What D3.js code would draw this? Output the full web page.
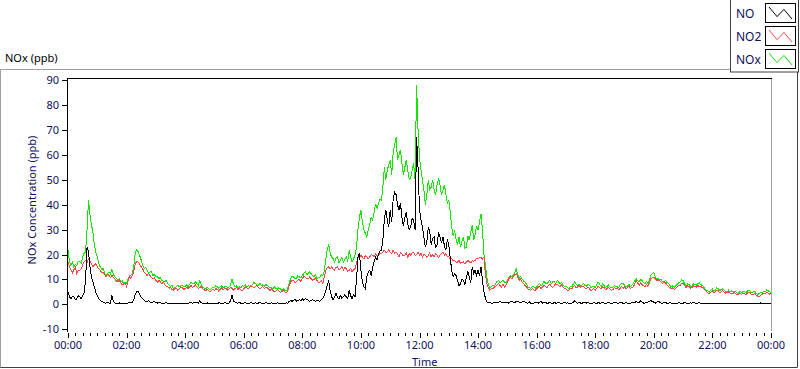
<!DOCTYPE html>
<html>
<head>
<meta charset="utf-8">
<script src="https://cdn.jsdelivr.net/npm/d3@7/dist/d3.min.js"></script>
<style>
  body { margin: 0; background: #fff; }
  svg { display: block; font-family: "Noto Sans", "Open Sans", sans-serif; }
</style>
</head>
<body>
<div id="chart"></div>
<script>
// readings every 6 minutes from 00:00 (grid) plus the readings 3 minutes after each (mid)
var sampleStep = 0.1;

var noGrid = [
  5, 2.3, 3, 2.3, 3, 3.6, 9.6, 21, 11, 7,
  3.6, 1.6, 0.9, 0.5, 0.5, 3.6, 0.5, 0.3, 0.3, 0.3,
  0.3, 0.9, 0.9, 4.3, 5, 2.9, 1.6, 1.3, 0.9, 0.9,
  0.8, 0.8, 0.5, 0.5, 0.5, 0.3, 0.3, 0.3, 0.3, 0.3,
  0.3, 0.4, 0.9, 0.6, 0.6, 1.6, 0.5, 0.4, 0.4, 0.4,
  0.4, 0.4, 0.5, 0.4, 0.5, 0.5, 3.6, 0.9, 0.5, 0.5,
  0.5, 0.5, 0.5, 0.5, 0.6, 0.5, 0.5, 0.5, 0.5, 0.4,
  0.4, 0.4, 0.4, 0.3, 0.3, 0.5, 1.6, 1.6, 1.3, 1.9,
  2.3, 2.3, 1.6, 1.6, 1.6, 1.6, 1.3, 2.3, 5.6, 9.6,
  3, 3, 3, 3.6, 3, 3, 5.6, 2.3, 3, 19,
  13.7, 7, 11, 13.7, 15, 19, 20.3, 21.7, 34, 33.7,
  37.8, 42, 44, 37.8, 35, 35, 32, 31, 33.7, 67,
  38, 31, 23, 31, 24, 27, 24, 27, 27, 21.7,
  24, 13.7, 12.3, 9.6, 8.3, 9.6, 11, 11, 15, 13.7,
  13.7, 15, 5, 1, 0.9, 0.5, 0.9, 0.9, 0.9, 0.9,
  0.9, 1, 0.9, 1.3, 0.9, 0.9, 0.9, 0.5, 0.5, 0.5,
  0.9, 0.9, 0.5, 0.9, 0.5, 0.5, 0.9, 0.5, 0.5, 0.5,
  0.5, 0.3, 0.5, 1.6, 0.5, 0.5, 0.9, 0.5, 0.5, 0.5,
  0.5, 0.9, 0.5, 0.5, 0.5, 0.5, 0.5, 0.9, 0.5, 0.9,
  0.5, 0.5, 0.5, 0.9, 1.3, 0.9, 0.9, 0.5, 0.9, 1.6,
  0.9, 0.9, 0.9, 0.5, 0.9, 0.5, 0.5, 0.3, 0.5, 0.5,
  0.5, 0.5, 0.5, 0.5, 0.5, 0.5, 0.5, 0.5, 0.3, 0.3,
  0.3, 0.3, 0.3, 0.3, 0.3, 0.3, 0.3, 0.3, 0.3, 0.3,
  0.3, 0.3, 0.3, 0.3, 0.3, 0.3, 0.3, 0.3, 0.3, 0.3,
  0.3
];
var noMid = [
  3, 3.2, 1.8, 3.4, 2.2, 4.5, 23, 15, 9, 4.8,
  2.2, 1.2, 0.6, 0.9, 0.4, 1.2, 0.4, 0.6, 0.2, 0.5,
  0.5, 0.6, 2, 5.2, 3.8, 2.2, 1.1, 1.4, 0.6, 1.1,
  0.5, 0.7, 0.3, 0.6, 0.2, 0.5, 0.2, 0.4, 0.2, 0.4,
  0.5, 0.7, 0.5, 0.9, 0.5, 0.6, 0.3, 0.6, 0.3, 0.6,
  0.3, 0.6, 0.3, 0.7, 0.3, 1.5, 1.2, 0.6, 0.8, 0.3,
  0.7, 0.3, 0.8, 0.3, 0.4, 0.8, 0.3, 0.7, 0.3, 0.6,
  0.3, 0.6, 0.2, 0.4, 0.6, 1.2, 1.2, 1.9, 1.6, 1.5,
  1.7, 2.1, 1.2, 1.9, 1.2, 1.4, 1.9, 3.5, 7.5, 5.5,
  1.9, 4.4, 2.1, 2.5, 3.9, 2.2, 3.4, 3.8, 10, 20.5,
  9, 6.3, 12.8, 11.5, 17, 18, 21.5, 26, 38, 31,
  33, 45, 40, 40.5, 31.5, 37, 30, 34.5, 30, 55,
  34, 27, 25, 29, 26.5, 22.5, 29, 24.5, 23.5, 26,
  18.5, 11, 11.5, 7.5, 10, 7.8, 13, 8.5, 12.5, 11.5,
  11.5, 9.5, 2.5, 0.6, 0.4, 0.8, 0.5, 1.2, 0.6, 0.7,
  0.5, 1.2, 0.6, 1.1, 0.6, 1.3, 0.6, 1, 0.3, 0.8,
  0.4, 1.1, 0.8, 0.4, 1, 0.3, 0.5, 0.9, 0.3, 0.8,
  0.6, 0.3, 0.7, 0.7, 0.9, 0.3, 0.6, 0.9, 0.3, 0.7,
  0.3, 0.5, 0.9, 0.3, 0.8, 0.3, 0.7, 0.4, 0.8, 0.4,
  0.8, 0.3, 0.7, 0.6, 0.8, 1.4, 0.5, 0.8, 1.2, 1.1,
  0.5, 1.2, 0.5, 0.8, 0.4, 0.7, 0.3, 0.5, 0.7, 0.3,
  0.7, 0.3, 0.6, 0.9, 0.3, 0.6, 0.3, 0.2, 0.5, 0.2,
  0.4, 0.2, 0.3, 0.4, 0.2, 0.3, 0.3, 0.2, 0.4, 0.3,
  0.3, 0.2, 0.4, 0.3, 0.3, 0.2, 0.6, 0.3, 0.2, 0.3
];

var no2Grid = [
  17, 13.7, 13.9, 12.3, 13.7, 15.7, 17.7, 18.3, 16.3, 15.7,
  15, 13.7, 13, 11, 11.6, 11.6, 10.3, 9, 8.6, 8,
  7.2, 11, 11.6, 16.3, 17, 15, 13, 11.6, 11.6, 10.3,
  9.6, 9.6, 8.3, 8, 7.2, 6.7, 5.6, 6.3, 6.3, 6.7,
  6.3, 6.3, 7.6, 7.2, 7, 6.7, 6.3, 5.4, 5.4, 5.6,
  5.6, 5.9, 6.1, 5.9, 6.3, 6.3, 6.3, 6.3, 5.9, 5.9,
  6.3, 6.7, 6.7, 7.2, 7.2, 6.7, 6.7, 6.3, 6.7, 5.6,
  5.6, 5.4, 5.4, 5, 5, 5.4, 9, 9.6, 9, 9.9,
  10.3, 11, 10.3, 10.3, 9.9, 9.6, 8.9, 8.3, 13.7, 15,
  15, 13.7, 15, 14.3, 13.7, 14.3, 13.7, 13, 14.3, 19,
  19.7, 18.3, 19, 19, 19.7, 20.3, 19.7, 20.3, 21.7, 21,
  21, 21.7, 21, 19, 20.3, 19.7, 19, 19.7, 21, 20,
  19.7, 19, 19.7, 19.7, 19, 19, 19.7, 19.7, 21, 20.3,
  19, 18.3, 17.7, 17, 16.3, 17, 17, 17, 17.7, 17.7,
  18.3, 19, 19, 8.3, 5.6, 6.3, 7.2, 8.3, 7, 7,
  9, 11, 11, 12.3, 9.6, 9, 7.6, 6.3, 5.6, 5.9,
  6.3, 7.2, 7, 7.2, 7.6, 7.2, 7.6, 8, 7.2, 7,
  6.3, 5.6, 6.3, 7.6, 7, 6.7, 7.2, 6.3, 6.3, 5.9,
  5.6, 7.2, 6.3, 6.7, 6.3, 6.3, 5.9, 6.3, 5.9, 7.2,
  7, 6.7, 6.3, 7, 9.6, 7.6, 8, 7.2, 7.2, 10.3,
  11, 9.6, 9.4, 8.3, 8.6, 7.2, 6.3, 5.9, 7, 7.6,
  8.3, 6.7, 7.2, 6.7, 7.2, 7.6, 7.2, 6.3, 5, 4.3,
  5.4, 5, 5.4, 5, 5, 4.6, 4.6, 4.3, 4.3, 4,
  4, 4.3, 4.6, 4.3, 4, 3.6, 3.2, 4, 4.3, 4.6,
  4.3
];
var no2Mid = [
  15.2, 12.6, 14.8, 13.5, 14.2, 17, 16.5, 17.4, 15.2, 16.4,
  14.2, 12.8, 12, 12.1, 10.8, 10.9, 9.4, 9.8, 7.9, 8.6,
  9.5, 10.4, 13.5, 17.4, 16, 14.3, 12.3, 12.4, 10.8, 10.8,
  8.9, 9, 9, 7.4, 6.5, 6, 6.5, 5.7, 7, 6,
  6.9, 7.1, 6.8, 7.8, 6.3, 7.2, 5.8, 6.1, 4.9, 6,
  6.3, 5.3, 6.7, 6.6, 5.7, 6.9, 5.8, 6.8, 6.4, 5.4,
  7, 6.1, 7.4, 6.6, 7.8, 6.2, 7.2, 6.9, 6, 6.2,
  5, 6, 4.9, 5.6, 4.6, 7.5, 9.8, 8.7, 9.8, 9.3,
  11.4, 10.2, 11, 9.7, 10.5, 8.8, 9.5, 11, 14.6, 14.2,
  14.2, 14.8, 13.8, 15.2, 14.8, 13.3, 14.5, 14, 16.5, 18.6,
  19, 19.5, 18.2, 20, 19.2, 19.4, 20.6, 21, 20.8, 21.8,
  20.3, 20.6, 20.2, 20.6, 19.4, 20.6, 20.3, 20.8, 19.6, 21,
  20.5, 20.2, 18.8, 20.6, 20.1, 20.3, 18.8, 20.4, 19.8, 19.2,
  18.2, 17.4, 16.8, 17.8, 16.9, 16.2, 17.6, 16.6, 17.2, 18.4,
  18.8, 18.2, 12, 6.5, 6.2, 6.9, 7.9, 7.6, 8, 7.6,
  10.3, 10.2, 11.8, 11.2, 10.2, 8.3, 7, 5.8, 6.4, 5.5,
  6.9, 6.4, 7.7, 6.6, 8.1, 6.8, 8.2, 7.4, 7.9, 6.4,
  5.7, 6.5, 7.2, 6.6, 7.6, 7.3, 6.5, 7, 5.6, 6.4,
  6.5, 6.6, 7.1, 5.9, 6.9, 5.7, 6.8, 6.6, 6.5, 6.4,
  6.4, 7.3, 6.9, 8.3, 8.6, 8.5, 7.4, 8, 8.6, 10.8,
  10.2, 9.9, 8.8, 9.2, 7.8, 6.8, 6.7, 6.4, 7.6, 8.4,
  7.6, 7.4, 6.5, 7.4, 6.8, 7, 6.8, 5.7, 4.6, 5,
  4.8, 5.6, 4.7, 5.5, 4.5, 5, 4.2, 4.9, 3.8, 4.5,
  4.6, 3.9, 4.9, 3.8, 4.4, 3.3, 3.7, 4.5, 4.9, 4.1
];

var noxGrid = [
  22, 15.7, 15, 15.7, 17, 19, 21, 42, 32, 24,
  19, 15, 14.3, 11.6, 13, 14, 11, 9.6, 9, 8.3,
  8.3, 11.6, 12.3, 21, 21, 17.7, 14.3, 13.7, 13, 11.6,
  11, 10.3, 9.6, 9, 8.3, 7.2, 6.3, 7, 7, 7.6,
  7, 7, 9, 8.3, 8.3, 9.6, 7, 6.3, 6.3, 6.3,
  6.7, 7, 7, 6.7, 7.2, 7, 10.3, 7, 6.7, 6.7,
  7.2, 7, 7.2, 8, 8.3, 7.6, 7.6, 7.2, 7.6, 6.7,
  6.3, 6.3, 6.7, 5.6, 5.6, 6.3, 10.3, 11, 10.3, 11,
  11.6, 13, 12.3, 12.3, 11, 10.3, 11, 11.6, 18, 24,
  19, 17, 19, 17.7, 17, 19, 21.7, 17, 19.7, 30,
  37.8, 30, 27, 32, 33.7, 40.4, 40.4, 41.8, 55, 53.8,
  57.8, 60.5, 67, 60, 56.5, 55, 53.8, 51, 56.5, 88,
  59, 49.8, 40, 49.8, 47, 45.8, 48, 48, 45.8, 44.4,
  41.8, 31, 29.7, 24, 23, 27, 23, 25.7, 32, 28,
  29.7, 36.4, 20, 11, 6.3, 7.6, 8.3, 9.6, 9, 9,
  9.6, 11.6, 11.6, 14.3, 10.3, 10.3, 9, 7, 6.3, 7,
  7, 8.3, 8, 8.6, 9, 8.3, 9, 9.6, 8.3, 7.6,
  7.2, 6.3, 7, 9, 7.6, 7.2, 8.3, 7.2, 7.6, 7,
  6.7, 9, 7.2, 7.6, 7.2, 7, 6.7, 7, 6.7, 8.3,
  7.6, 7.2, 7.2, 8.3, 10.3, 9, 9.6, 8.3, 8.3, 11.6,
  13, 10, 9.6, 9, 9.6, 8.3, 7, 6.7, 8, 9,
  9.6, 7.2, 8, 7.2, 8, 8.3, 8, 7, 5.6, 5,
  6.3, 5.6, 6.3, 5.9, 5.6, 5, 5, 5, 5, 4.6,
  4.6, 5, 5.4, 5, 5, 4.3, 4.3, 4.6, 5, 5.6,
  4.6
];
var noxMid = [
  17, 16.8, 16, 17.2, 16.5, 20.5, 30, 36, 29, 21,
  16.5, 14, 12.5, 12.4, 12.2, 12, 10.5, 10.2, 9.4, 8.8,
  10.2, 11.8, 16, 22, 19.5, 15.8, 14.8, 12.6, 13.2, 12,
  11.2, 10.8, 9.4, 9.8, 7.7, 7.6, 6.8, 7.7, 7.6, 7.2,
  7.9, 8, 8.5, 9, 7.5, 8, 6.6, 6.9, 6, 6.9,
  7.5, 6.5, 7.4, 7.3, 6.6, 7.8, 8, 7.4, 7, 7.6,
  7.8, 7.5, 7.5, 8.8, 7.8, 8.4, 7.8, 8, 7, 6.6,
  6.9, 6.1, 6.2, 6.2, 5.4, 8.5, 11.2, 10.2, 11.5, 10.6,
  12.5, 12, 13.2, 11.6, 11.8, 10.8, 11.8, 13.5, 22, 20.5,
  18.3, 18.5, 16.8, 18.8, 18.2, 17.5, 19, 18.5, 23, 35,
  33, 28.5, 30, 35, 37, 38.5, 42, 47, 50, 56,
  52, 64, 58, 62, 52, 58, 50, 54, 50, 70,
  54, 46, 44, 46, 50, 44, 50.5, 44, 48, 40.5,
  37, 27.5, 26, 27, 25.5, 22.5, 27.5, 29, 26, 31.5,
  33, 30, 16, 8, 7.2, 7.4, 9.2, 8.7, 9.8, 8.6,
  11, 11.2, 12.6, 12, 11.2, 9.4, 8.2, 6.8, 7.2, 6.5,
  7.8, 7.6, 9.3, 8.2, 9.6, 9, 8.4, 9, 8.8, 7.2,
  6.8, 7.3, 8.2, 8, 8.1, 7.8, 7.6, 8.2, 6.9, 7.4,
  7.8, 8, 8.1, 6.8, 7.8, 6.6, 7.6, 7.3, 7.8, 8.6,
  7, 8, 7.6, 9.5, 9.4, 10, 8.6, 9.2, 9.6, 12.3,
  11, 10.5, 10, 9.2, 8.8, 7.6, 7.5, 7.6, 8.6, 9.8,
  8.2, 8.2, 7.3, 8.2, 7.7, 8.6, 7.6, 6.2, 5.4, 5.8,
  5.3, 6.6, 5.6, 6.2, 5.1, 5.7, 5.4, 5.3, 4.4, 5.2,
  5.2, 4.6, 5.8, 4.6, 5.2, 4, 4.7, 5.2, 5.8, 5
];

var seriesNames = ["NO", "NO2", "NOx"];
var seriesColors = ["#000000", "#ff4646", "#14e600"];
var yTicks = [-10, 0, 10, 20, 30, 40, 50, 60, 70, 80, 90];
var xTickHours = [0, 2, 4, 6, 8, 10, 12, 14, 16, 18, 20, 22, 24];
var xTickLabels = ["00:00", "02:00", "04:00", "06:00", "08:00", "10:00", "12:00",
                   "14:00", "16:00", "18:00", "20:00", "22:00", "00:00"];

var w = 800, h = 369;
var plotLeft = 67, plotRight = 771, plotTop = 78, plotBottom = 331;
var textColor = "#10105a";
var fs = 11;

// put grid and mid readings on one time line
function toPoints(grid, mid) {
    var pts = [];
    grid.forEach(function (v, i) {
        pts.push([i * sampleStep, v]);
        if (i < mid.length) pts.push([i * sampleStep + sampleStep / 2, mid[i]]);
    });
    return pts;
}

var svg = d3.select("#chart").append("svg")
    .attr("width", w)
    .attr("height", h);

var x = d3.scaleLinear().domain([0, 24]).range([68, 771]);
var y = d3.scaleLinear().domain([-10, 90]).range([329.3, 80]);

// outer panel frame
svg.append("path")
    .attr("d", "M0.5,368 L0.5,69.5 L730,69.5")
    .attr("fill", "none")
    .attr("stroke", "#a0a0a0");
svg.append("path")
    .attr("d", "M0.5,367.5 L797.5,367.5 L797.5,72")
    .attr("fill", "none")
    .attr("stroke", "#404040");

svg.append("text")
    .attr("x", 5)
    .attr("y", 62)
    .attr("font-size", fs)
    .attr("fill", "#000")
    .text("NOx (ppb)");

// plot area
svg.append("rect")
    .attr("x", plotLeft)
    .attr("y", plotTop)
    .attr("width", plotRight - plotLeft)
    .attr("height", plotBottom - plotTop)
    .attr("fill", "#fff");
svg.append("line")
    .attr("x1", plotRight + 0.5).attr("x2", plotRight + 0.5)
    .attr("y1", plotTop).attr("y2", plotBottom)
    .attr("stroke", "#a0a0a0");
svg.append("line")
    .attr("x1", plotLeft).attr("x2", plotRight + 1)
    .attr("y1", plotTop + 0.5).attr("y2", plotTop + 0.5)
    .attr("stroke", "#000");
svg.append("line")
    .attr("x1", plotLeft + 0.5).attr("x2", plotLeft + 0.5)
    .attr("y1", plotTop).attr("y2", plotBottom + 1)
    .attr("stroke", "#000");

// y axis
var yAxis = svg.append("g").attr("class", "y-axis");
yAxis.selectAll("line")
    .data(yTicks)
    .enter()
    .append("line")
    .attr("x1", plotLeft - 5).attr("x2", plotLeft)
    .attr("y1", function (d) { return Math.round(y(d)) + 0.5; })
    .attr("y2", function (d) { return Math.round(y(d)) + 0.5; })
    .attr("stroke", "#000");
yAxis.selectAll("text")
    .data(yTicks)
    .enter()
    .append("text")
    .attr("x", plotLeft - 8)
    .attr("y", function (d) { return y(d) + 4; })
    .attr("text-anchor", "end")
    .attr("font-size", fs)
    .attr("fill", textColor)
    .text(function (d) { return d; });

svg.append("text")
    .attr("transform", "translate(36,200) rotate(-90)")
    .attr("text-anchor", "middle")
    .attr("font-size", fs)
    .attr("fill", textColor)
    .text("NOx Concentration (ppb)");

// x axis: major ticks every 2 h, minor every 15 min
var minorTicks = d3.range(0, 24.001, 0.25);
svg.append("g").selectAll("line")
    .data(minorTicks)
    .enter()
    .append("line")
    .attr("x1", function (d) { return Math.round(x(d)) + 0.5; })
    .attr("x2", function (d) { return Math.round(x(d)) + 0.5; })
    .attr("y1", plotBottom + 2)
    .attr("y2", function (d) { return d % 2 === 0 ? plotBottom + 7 : plotBottom + 5; })
    .attr("stroke", "#000");
svg.append("g").selectAll("text")
    .data(xTickHours)
    .enter()
    .append("text")
    .attr("x", function (d) { return x(d); })
    .attr("y", 348.5)
    .attr("text-anchor", "middle")
    .attr("font-size", fs)
    .attr("fill", textColor)
    .text(function (d, i) { return xTickLabels[i]; });

svg.append("text")
    .attr("x", 412)
    .attr("y", 365.5)
    .attr("font-size", fs)
    .attr("fill", textColor)
    .text("Time");

// data lines
var series = [toPoints(noGrid, noMid), toPoints(no2Grid, no2Mid), toPoints(noxGrid, noxMid)];
var line = d3.line()
    .x(function (d) { return x(d[0]); })
    .y(function (d) { return y(d[1]); });

svg.append("g")
    .selectAll("path")
    .data([2, 1, 0])
    .enter()
    .append("path")
    .attr("d", function (k) { return line(series[k]); })
    .attr("fill", "none")
    .attr("stroke", function (k) { return seriesColors[k]; })
    .attr("stroke-width", 1)
    .style("shape-rendering", "crispEdges");

// legend
var legend = svg.append("g");
legend.append("rect")
    .attr("x", 730.5).attr("y", -1)
    .attr("width", 68).attr("height", 73)
    .attr("fill", "#fff")
    .attr("stroke", "#404040");
var zig = [[0, 1], [0.35, 0.2], [0.65, 0.8], [1, 0]];
seriesNames.forEach(function (name, i) {
    var top = 3 + i * 23;
    legend.append("text")
        .attr("x", 736)
        .attr("y", top + 15)
        .attr("font-size", 12)
        .attr("fill", textColor)
        .text(name);
    legend.append("rect")
        .attr("x", 765.5).attr("y", top + 0.5)
        .attr("width", 30).attr("height", 19)
        .attr("fill", "#fff")
        .attr("stroke", "#000");
    var sx = d3.scaleLinear().range([769, 792]);
    var sy = d3.scaleLinear().range([top + 16, top + 4]);
    legend.append("path")
        .attr("d", d3.line().x(function (p) { return sx(p[0]); }).y(function (p) { return sy(p[1]); })(zig))
        .attr("fill", "none")
        .attr("stroke", seriesColors[i])
        .attr("stroke-width", 1);
});
</script>
</body>
</html>
